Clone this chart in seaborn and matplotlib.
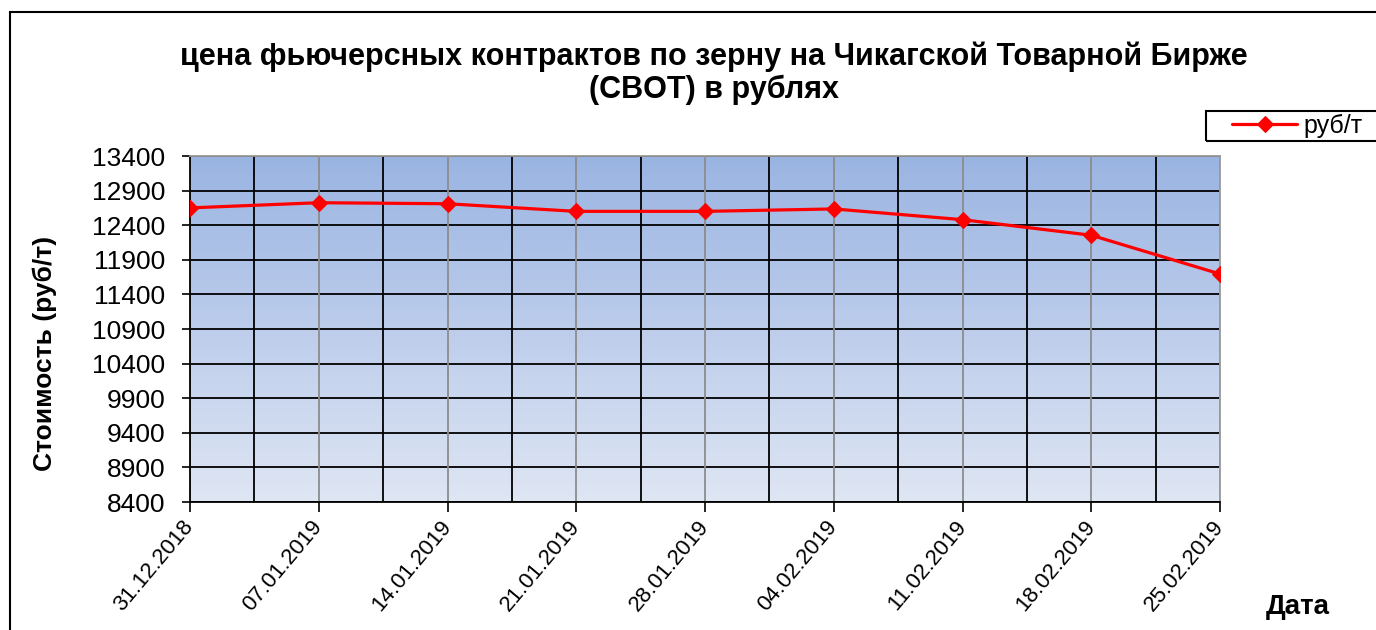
import numpy as np
import pandas as pd
import matplotlib
matplotlib.use('Agg')
import matplotlib.pyplot as plt
import seaborn as sns
from matplotlib.patches import Rectangle

# Data
dates = ['31.12.2018', '07.01.2019', '14.01.2019', '21.01.2019', '28.01.2019',
         '04.02.2019', '11.02.2019', '18.02.2019', '25.02.2019']
prices = [12650, 12725, 12710, 12600, 12600, 12635, 12480, 12255, 11695]
y_ticks = list(range(8400, 13401, 500))

title = 'цена фьючерсных контрактов по зерну на Чикагской Товарной Бирже\n(CBOT) в рублях'
y_label = 'Стоимость (руб/т)'
x_label = 'Дата'
series_name = 'руб/т'

df = pd.DataFrame({'pos': np.arange(len(dates)), 'price': prices})

sns.set_theme(style='white')
plt.rcParams['font.family'] = ['Liberation Sans', 'DejaVu Sans']
plt.rcParams['text.color'] = 'black'

fig = plt.figure(figsize=(13.76, 6.3), dpi=100)
ax = fig.add_axes([190 / 1376, 1 - 502 / 630, 1030 / 1376, 346 / 630])

# gradient background of the plot area
grad = np.linspace(0, 1, 256).reshape(-1, 1)
cmap = matplotlib.colors.LinearSegmentedColormap.from_list('bg', ['#9ab4e2', '#dfe6f4'])
ax.imshow(grad, aspect='auto', cmap=cmap, extent=[0, 1, 0, 1],
          transform=ax.transAxes, zorder=0)

sns.lineplot(data=df, x='pos', y='price', ax=ax, color='#ff0000', linewidth=2.3,
             marker='D', markersize=8.5, markeredgecolor='#ff0000',
             label=series_name, zorder=5)

ax.set_xlim(0, len(dates) - 1)
ax.set_ylim(8400, 13400)
ax.set_yticks(y_ticks)
ax.set_yticklabels([str(v) for v in y_ticks], fontsize=19)
ax.set_xticks(np.arange(len(dates)))
ax.set_xticklabels(dates, fontsize=16, rotation=50, ha='right', va='center',
                   rotation_mode='anchor')
ax.set_xticks(np.arange(len(dates) - 1) + 0.5, minor=True)

# grid: black at value ticks and between dates, grey at the dates
ax.grid(False)
for v in y_ticks:
    ax.axhline(v, color='black', linewidth=1.3, zorder=2)
for p in np.arange(len(dates)):
    ax.axvline(p, color='#8c8c8c', linewidth=1.3, zorder=2)
for p in np.arange(len(dates) - 1) + 0.5:
    ax.axvline(p, color='black', linewidth=1.3, zorder=2)

ax.tick_params(axis='y', which='major', left=True, length=6, width=1.2,
               color='black', pad=12, labelcolor='black')
ax.tick_params(axis='x', which='major', bottom=True, length=7, width=1.2,
               color='black', pad=8, labelcolor='black')
ax.tick_params(axis='x', which='minor', bottom=False, length=0)

for side in ['left', 'bottom']:
    ax.spines[side].set_color('black')
    ax.spines[side].set_linewidth(1.3)
for side in ['top', 'right']:
    ax.spines[side].set_color('#9a9a9a')
    ax.spines[side].set_linewidth(1.3)

ax.set_xlabel('')
ax.set_ylabel('')

fig.text(714 / 1376, 1 - 73 / 630, title, ha='center', va='center', fontsize=22,
         fontweight='bold', linespacing=1.12, color='black')
fig.text(45 / 1376, 1 - 353 / 630, y_label, rotation=90, ha='center', va='center',
         fontsize=19, fontweight='bold', color='black')
fig.text(1298 / 1376, 1 - 607 / 630, x_label, ha='center', va='center',
         fontsize=20, fontweight='bold', color='black')

# legend: frame runs off the right edge, like the reference
leg = ax.legend(loc='center left', bbox_to_anchor=(1232 / 1376, 1 - 126 / 630),
                bbox_transform=fig.transFigure, frameon=False,
                fontsize=18, handlelength=2.6, borderpad=0, borderaxespad=0,
                handletextpad=0.25)
for t in leg.get_texts():
    t.set_color('black')
fig.patches.append(Rectangle((1206 / 1376, 1 - 141 / 630), 0.2, 30 / 630,
                             transform=fig.transFigure, fill=False,
                             edgecolor='black', linewidth=1.5))

# outer chart frame
fig.patches.append(Rectangle((10 / 1376, -0.1), 1.2, 1 - 12 / 630 + 0.1,
                             transform=fig.transFigure, fill=False,
                             edgecolor='black', linewidth=1.5, zorder=0))

fig.savefig('out.png', dpi=100)
